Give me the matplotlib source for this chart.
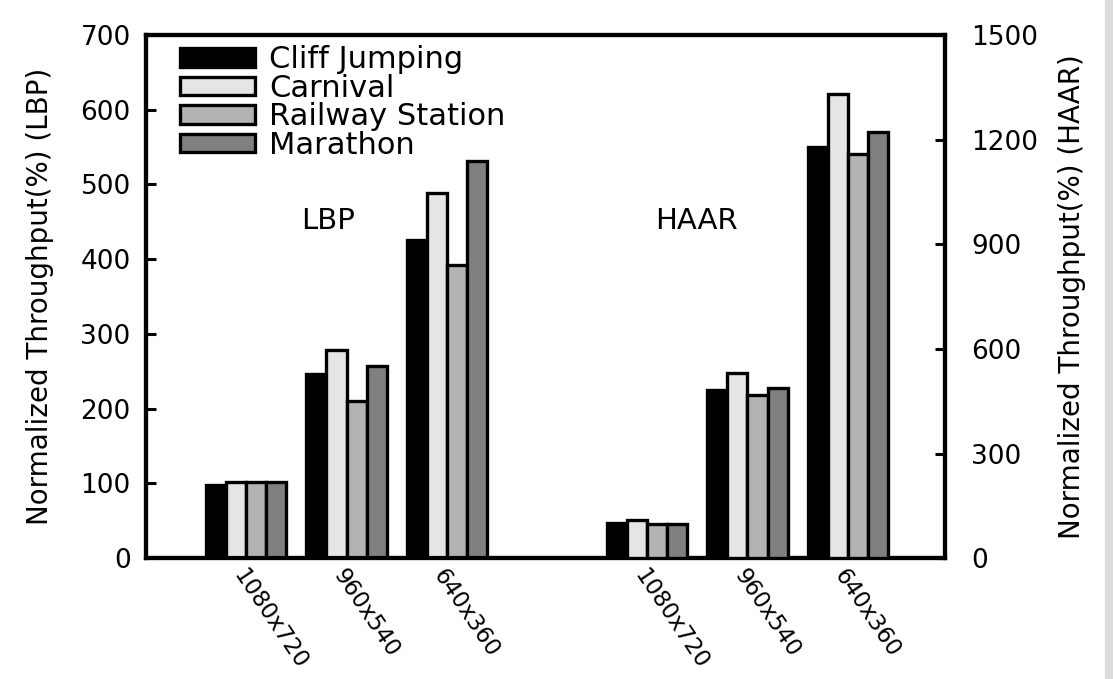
import matplotlib
matplotlib.use('Agg')
import matplotlib.pyplot as plt
from matplotlib.patches import Rectangle

plt.rcParams['font.family'] = 'DejaVu Sans'

# data
resolutions = ['1080x720', '960x540', '640x360']
series = ['Cliff Jumping', 'Carnival', 'Railway Station', 'Marathon']
lbp = [[98, 247, 425],    # Cliff Jumping
       [102, 278, 489],   # Carnival
       [102, 210, 392],   # Railway Station
       [102, 257, 531]]   # Marathon
haar = [[101, 481, 1180],
        [108, 530, 1330],
        [98, 469, 1160],
        [98, 489, 1221]]
colors = ['#000000', '#e5e5e5', '#b3b3b3', '#808080']

lbp_pos = [0, 1, 2]
haar_pos = [4, 5, 6]
w = 0.2

fig = plt.figure(figsize=(11.13, 6.79), dpi=100)
ax = fig.add_axes([0.1312, 0.178, 0.7178, 0.7705])
ax2 = ax.twinx()

for i in range(4):
    off = (i - 1.5) * w
    ax.bar([p + off for p in lbp_pos], lbp[i], w, color=colors[i],
           edgecolor='black', linewidth=2.4, label=series[i], zorder=3)
    ax2.bar([p + off for p in haar_pos], haar[i], w, color=colors[i],
            edgecolor='black', linewidth=2.4, zorder=3)

ax.set_xlim(-1, 6.97)
ax.set_ylim(0, 700)
ax2.set_ylim(0, 1500)
ax.set_yticks(range(0, 701, 100))
ax2.set_yticks(range(0, 1501, 300))

# rotated labels start a little left of the group centre
ax.set_xticks([p - 0.18 for p in lbp_pos + haar_pos])
ax.set_xticklabels(resolutions + resolutions, rotation=-56, ha='left', va='top',
                   fontsize=16.5)

ax.tick_params(axis='x', length=0, pad=5)
ax.tick_params(axis='y', direction='in', length=7, width=2.2, labelsize=19, pad=11)
ax2.tick_params(axis='y', direction='in', length=7, width=2.2, labelsize=19, pad=19)

for a in (ax, ax2):
    for s in a.spines.values():
        s.set_linewidth(3)

ax.text(0.82, 451, 'LBP', fontsize=21, ha='center', va='center')
ax.text(4.49, 451, 'HAAR', fontsize=21, ha='center', va='center')

fig.text(0.036, 0.563, 'Normalized Throughput(%) (LBP)', rotation=90,
         fontsize=20, ha='center', va='center')
fig.text(0.963, 0.563, 'Normalized Throughput(%) (HAAR)', rotation=90,
         fontsize=20, ha='center', va='center')

ax.legend(loc='upper left', bbox_to_anchor=(0.02, 1.015), frameon=False,
          fontsize=22, handlelength=2.45, handleheight=0.55, labelspacing=-0.02,
          handletextpad=0.45, borderaxespad=0.2)

# light gray strip at the right edge of the picture
fig.patches.append(Rectangle((0.993, 0), 0.007, 1, transform=fig.transFigure,
                             color='#dcdcdc', zorder=0))

fig.savefig('out.png', dpi=100)
